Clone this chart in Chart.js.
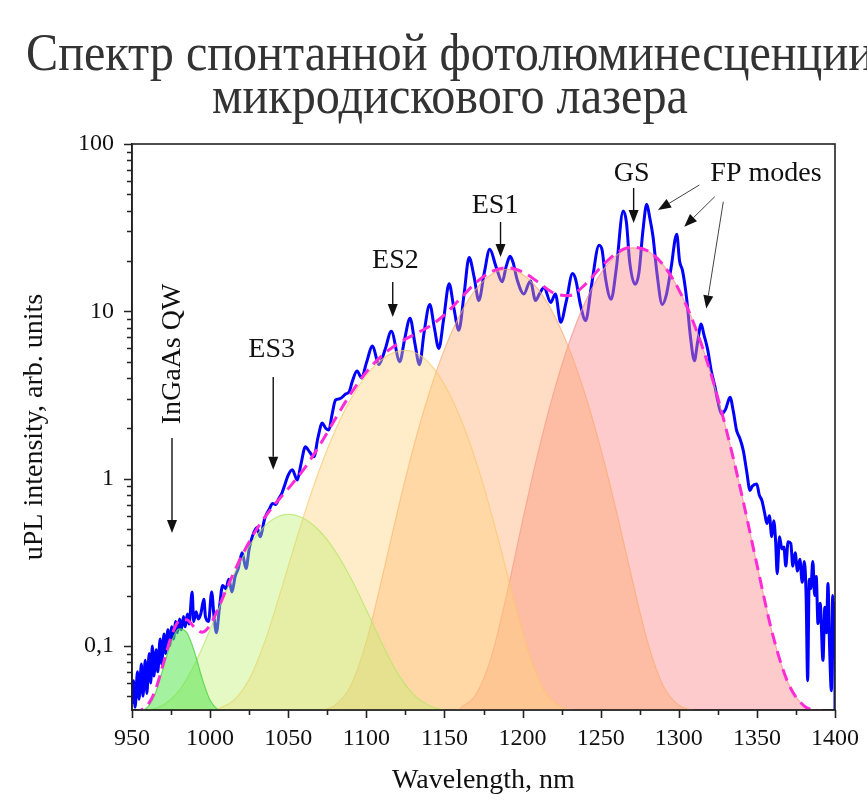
<!DOCTYPE html>
<html>
<head>
<meta charset="utf-8">
<script src="https://cdn.jsdelivr.net/npm/chart.js@4.4.1/dist/chart.umd.min.js"></script>
<style>
  html, body { margin: 0; padding: 0; background: #ffffff; }
  canvas { display: block; }
</style>
</head>
<body>
<canvas id="chart" width="867" height="807"></canvas>
<script>
// ---- axis ticks ----
const wavelengthTicks = [950, 1000, 1050, 1100, 1150, 1200, 1250, 1300, 1350, 1400];
const intensityTicks = [0.1, 1, 10, 100];

// ---- measured micro-PL spectrum ----
const measuredWl = [
  950, 951, 952, 953.5, 954.5, 956, 957, 958.5, 959.5, 961, 962, 963, 964, 965.5, 966.5, 968, 969,
  970.5, 971.5, 973, 974, 975.5, 976.5, 978, 979, 980.5, 981.5, 983, 984, 985.5, 986.5, 988.5, 989.5,
  991, 992.5, 994, 996, 997, 999, 1001, 1002.5, 1004, 1006, 1008, 1010, 1012, 1014, 1016, 1018,
  1020.5, 1023, 1025, 1027, 1030, 1032, 1035, 1038, 1040, 1042, 1044, 1046, 1048, 1050, 1052.6,
  1055.8, 1058, 1061, 1063.5, 1066.5, 1069, 1071.8, 1074, 1076, 1078, 1080.3, 1083, 1086.7, 1089,
  1091, 1094, 1097, 1100, 1104, 1108, 1112, 1116, 1121.4, 1124.5, 1128, 1131, 1134, 1137, 1140.6,
  1143.5, 1146.4, 1149.5, 1153, 1156, 1159.2, 1162.5, 1165.8, 1169, 1172, 1175.5, 1179, 1183, 1187,
  1189.5, 1192, 1194, 1196.5, 1200.8, 1205, 1208.3, 1211, 1213.7, 1218, 1221, 1224.4, 1228, 1232,
  1234, 1237, 1240.4, 1244, 1249, 1251, 1253, 1256.7, 1260, 1264.4, 1266.5, 1268.5, 1272, 1274.5,
  1277, 1279.5, 1281.5, 1283.5, 1286, 1289.4, 1292, 1295, 1298.7, 1300.5, 1302.4, 1305, 1307.5,
  1310, 1312, 1314.3, 1316, 1318.5, 1320.8, 1323, 1325, 1327.4, 1330, 1332.8, 1335, 1337, 1339,
  1341.3, 1343.5, 1345.6, 1347, 1349.9, 1351.5, 1353.2, 1355, 1356.4, 1358, 1359.5, 1360.8, 1362,
  1363, 1364.5, 1366, 1367.3, 1368.5, 1370, 1371.7, 1373, 1374.5, 1376, 1377.5, 1379, 1380.4, 1381.5,
  1382.5, 1383.5, 1384.5, 1385.8, 1387, 1388, 1389.1, 1390.5, 1392.3, 1393.5, 1394.5, 1395.5, 1396.5,
  1397.7, 1398.5, 1399.3, 1399.9, 1400
];
const measuredPl = [
  0.045, 0.062, 0.043, 0.07, 0.048, 0.078, 0.05, 0.082, 0.052, 0.09, 0.06, 0.1, 0.066, 0.095, 0.07, 0.11, 0.078,
  0.118, 0.09, 0.125, 0.1, 0.13, 0.11, 0.14, 0.12, 0.145, 0.125, 0.15, 0.13, 0.155, 0.135, 0.21, 0.14,
  0.16, 0.145, 0.155, 0.19, 0.15, 0.14, 0.21, 0.15, 0.12, 0.17, 0.23, 0.22, 0.25, 0.21, 0.26, 0.29,
  0.36, 0.29, 0.38, 0.45, 0.51, 0.45, 0.58, 0.66, 0.71, 0.70, 0.76, 0.82, 0.93, 1.05, 1.13,
  0.98, 1.2, 1.55, 1.45, 1.35, 1.75, 2.15, 2.0, 1.95, 2.4, 2.95, 3.0, 3.2, 3.3,
  3.8, 4.4, 4.0, 4.9, 6.2, 4.8, 5.9, 7.6, 5.0, 6.8, 9.1, 6.5, 4.8, 7.5, 11.0,
  8.0, 6.0, 9.0, 14.6, 10.5, 7.7, 12.5, 21.0, 16, 11.6, 17, 23.5, 18.5, 15.0,
  18.5, 21.3, 19.5, 15.5, 12.7, 15.2, 11.6, 12.8, 13.9, 11.3, 12.7, 8.6, 11.5, 16.8,
  15.5, 11, 8.8, 14, 24.8, 23, 16, 11.8, 18, 39.8, 34, 20, 14.5, 17,
  30, 43.6, 36, 28, 17, 11.0, 12.5, 18, 28.9, 20, 17.5, 12, 7,
  5.06, 6.5, 8.4, 7.3, 5.9, 4.4, 3.6, 2.9, 2.43, 2.6, 3.06, 2.5, 1.94, 1.75,
  1.47, 1.1, 0.85, 0.9, 0.93, 0.8, 0.74, 0.62, 0.54, 0.6, 0.45, 0.56, 0.42,
  0.27, 0.45, 0.38, 0.39, 0.3, 0.42, 0.41, 0.3, 0.36, 0.28, 0.33, 0.24, 0.32, 0.2,
  0.062, 0.25, 0.22, 0.32, 0.2, 0.26, 0.136, 0.18, 0.082, 0.17, 0.12, 0.236, 0.1,
  0.054, 0.2, 0.12, 0.18, 0.04
];

// ---- fitted peaks (InGaAs QW, ES3, ES2, ES1, GS) ----
const qwWl  = [955, 960, 965, 970, 975, 980, 985, 990, 995, 1000, 1005, 1010];
const qwFit = [0.0405, 0.0431, 0.0522, 0.0737, 0.1047, 0.1265, 0.1204, 0.092, 0.0634, 0.0473, 0.0416, 0.0402];

const es3Wl  = [960, 970, 980, 990, 1000, 1010, 1020, 1030, 1040, 1050, 1060, 1070, 1080, 1090, 1100, 1110, 1120, 1130, 1140, 1150];
const es3Fit = [0.0412, 0.0444, 0.0538, 0.0771, 0.1255, 0.2097, 0.3284, 0.4617, 0.570, 0.612, 0.578, 0.488, 0.370, 0.2555, 0.1644, 0.1036, 0.0688, 0.0515, 0.0441, 0.0413];

const es2Wl  = [1005, 1015, 1025, 1035, 1045, 1055, 1065, 1075, 1085, 1095, 1105, 1115, 1125, 1135, 1145, 1155, 1165, 1175, 1185, 1195, 1205, 1215, 1225, 1235];
const es2Fit = [0.042, 0.0472, 0.0631, 0.106, 0.2088, 0.4267, 0.833, 1.497, 2.435, 3.567, 4.69, 5.528, 5.84, 5.416, 4.32, 2.97, 1.76, 0.908, 0.416, 0.18, 0.085, 0.052, 0.043, 0.0406];

const es1Wl  = [1070, 1080, 1090, 1100, 1110, 1120, 1130, 1140, 1150, 1160, 1170, 1180, 1190, 1200, 1210, 1220, 1230, 1240, 1250, 1260, 1270, 1280, 1290, 1300, 1310];
const es1Fit = [0.041, 0.0442, 0.0578, 0.106, 0.2535, 0.642, 1.517, 3.20, 5.92, 9.58, 13.51, 16.61, 17.8, 16.61, 13.51, 9.58, 5.92, 3.20, 1.517, 0.642, 0.2535, 0.106, 0.0578, 0.0442, 0.041];

const gsWl  = [1160, 1170, 1180, 1190, 1200, 1210, 1220, 1230, 1240, 1250, 1260, 1270, 1280, 1290, 1300, 1310, 1320, 1330, 1340, 1350, 1360, 1370, 1380, 1390, 1400];
const gsFit = [0.0425, 0.051, 0.086, 0.206, 0.559, 1.44, 3.29, 6.55, 11.29, 16.82, 21.6, 23.97, 22.92, 18.93, 13.48, 8.29, 4.41, 2.03, 0.825, 0.307, 0.118, 0.06, 0.044, 0.041, 0.040];

// ---- cumulative fit ----
const sumWl  = [950, 955, 960, 965, 970, 975, 980, 985, 990, 995, 1000, 1005, 1010, 1020, 1030, 1040, 1050, 1060, 1070, 1080, 1090, 1100, 1110, 1120, 1130, 1140, 1150, 1160, 1170, 1180, 1190, 1200, 1210, 1220, 1230, 1240, 1250, 1260, 1270, 1280, 1290, 1300, 1310, 1320, 1330, 1340, 1350, 1360, 1370, 1380, 1390, 1400];
const sumFit = [0.0400, 0.0411, 0.0443, 0.0546, 0.0781, 0.1127, 0.1403, 0.1435, 0.1291, 0.1208, 0.1331, 0.1664, 0.2136, 0.3415, 0.5012, 0.677, 0.871, 1.139, 1.578, 2.267, 3.219, 4.336, 5.437, 6.391, 7.219, 8.094, 9.53, 11.87, 14.77, 17.24, 18.2, 17.21, 14.93, 12.84, 12.43, 14.45, 18.3, 22.21, 24.18, 22.99, 18.95, 13.48, 8.29, 4.41, 2.03, 0.825, 0.307, 0.118, 0.060, 0.044, 0.041, 0.040];

// ---- annotations: label anchor, arrows as [tail, tip] in (nm, intensity) ----
const peakNotes = [
  { text: 'ES3', at: [1039.4, 5.87], arrows: [[[1040.4, 4.05], [1040.4, 1.13]]] },
  { text: 'ES2', at: [1118.6, 20.0], arrows: [[[1116.9, 14.96], [1116.9, 9.25]]] },
  { text: 'ES1', at: [1182.4, 42.6], arrows: [[[1185.9, 34.2], [1185.9, 21.1]]] },
  { text: 'GS',  at: [1269.8, 66.2], arrows: [[[1271.1, 54.6], [1271.1, 33.7]]] },
  { text: 'FP modes', at: [1355.8, 66.2], thin: true, arrows: [
      [[1313.2, 56.9], [1286.7, 40.3]],
      [[1323.0, 48.4], [1303.5, 32.0]],
      [[1328.5, 45.2], [1317.6, 10.4]]
  ] },
  { text: 'InGaAs QW', at: [976.3, 5.56], vertical: true, arrows: [[[975.6, 1.75], [975.6, 0.473]]] }
];

const toXY = (xs, ys) => xs.map((x, i) => ({ x: x, y: ys[i] }));
const SERIF = '"Liberation Serif", "Times New Roman", serif';
const TITLE_LINES = ['Спектр спонтанной фотолюминесценции', 'микродискового лазера'];

function peakSet(label, xs, ys, fillColor, lineColor, order) {
  return {
    label: label,
    data: toXY(xs, ys),
    fill: 'start',
    backgroundColor: fillColor,
    borderColor: lineColor,
    borderWidth: 1.2,
    pointRadius: 0,
    cubicInterpolationMode: 'monotone',
    order: order
  };
}

function drawArrow(ctx, x0, y0, x1, y1, head, halfW) {
  const ang = Math.atan2(y1 - y0, x1 - x0);
  const bx = x1 - head * Math.cos(ang), by = y1 - head * Math.sin(ang);
  ctx.beginPath();
  ctx.moveTo(x0, y0);
  ctx.lineTo(bx, by);
  ctx.stroke();
  ctx.beginPath();
  ctx.moveTo(x1, y1);
  ctx.lineTo(bx + halfW * Math.sin(ang), by - halfW * Math.cos(ang));
  ctx.lineTo(bx - halfW * Math.sin(ang), by + halfW * Math.cos(ang));
  ctx.closePath();
  ctx.fill();
}

const decorations = {
  id: 'decorations',
  afterDraw(chart) {
    const { ctx, chartArea: a } = chart;
    const xs = chart.scales.x, ys = chart.scales.y;
    ctx.save();

    // two-line title, narrowed slightly like a condensed serif face
    ctx.fillStyle = '#333333';
    ctx.textAlign = 'center';
    ctx.textBaseline = 'alphabetic';
    ctx.font = '53px ' + SERIF;
    const sx = 848 / ctx.measureText(TITLE_LINES[0]).width;
    [[TITLE_LINES[0], 70], [TITLE_LINES[1], 113]].forEach(([t, base]) => {
      ctx.save();
      ctx.translate(450, base);
      ctx.scale(sx, 1);
      ctx.fillText(t, 0, 0);
      ctx.restore();
    });

    // frame
    ctx.strokeStyle = '#222222';
    ctx.lineWidth = 1.6;
    ctx.strokeRect(a.left, a.top, a.right - a.left, a.bottom - a.top);

    // x tick marks (major + minor), pointing outward
    ctx.beginPath();
    for (let v = 950; v <= 1400; v += 25) {
      const px = Math.round(xs.getPixelForValue(v)) + 0.5;
      const len = (v % 50 === 0) ? 8 : 5;
      ctx.moveTo(px, a.bottom);
      ctx.lineTo(px, a.bottom + len);
    }
    // y tick marks, log decades with 2..9 minors
    for (let dec = 0.01; dec < 100; dec *= 10) {
      for (let m = 1; m <= 9; m++) {
        const v = dec * m;
        if (v < ys.min || v > ys.max) continue;
        const py = Math.round(ys.getPixelForValue(v)) + 0.5;
        const len = (m === 1) ? 8 : 5;
        ctx.moveTo(a.left, py);
        ctx.lineTo(a.left - len, py);
      }
    }
    const pTop = Math.round(ys.getPixelForValue(100)) + 0.5;
    ctx.moveTo(a.left, pTop);
    ctx.lineTo(a.left - 8, pTop);
    ctx.stroke();

    // peak labels and arrows
    ctx.fillStyle = '#111111';
    ctx.font = '28px ' + SERIF;
    ctx.textBaseline = 'middle';
    peakNotes.forEach(n => {
      const lx = xs.getPixelForValue(n.at[0]);
      const ly = ys.getPixelForValue(n.at[1]);
      if (n.vertical) {
        ctx.save();
        ctx.translate(lx, ly);
        ctx.rotate(-Math.PI / 2);
        ctx.fillText(n.text, 0, 0);
        ctx.restore();
      } else {
        ctx.fillText(n.text, lx, ly);
      }
      ctx.strokeStyle = n.thin ? '#444444' : '#111111';
      ctx.lineWidth = n.thin ? 1 : 1.4;
      n.arrows.forEach(ar => {
        drawArrow(ctx,
          xs.getPixelForValue(ar[0][0]), ys.getPixelForValue(ar[0][1]),
          xs.getPixelForValue(ar[1][0]), ys.getPixelForValue(ar[1][1]),
          13, 5);
      });
    });
    ctx.restore();
  }
};

new Chart(document.getElementById('chart'), {
  type: 'line',
  data: {
    datasets: [
      {
        label: 'Cumulative fit',
        data: toXY(sumWl, sumFit),
        borderColor: '#ff2bd6',
        borderWidth: 3,
        borderDash: [12, 7],
        fill: false,
        pointRadius: 0,
        cubicInterpolationMode: 'monotone',
        order: 0
      },
      peakSet('InGaAs QW', qwWl, qwFit, 'rgba(90,230,80,0.55)', 'rgba(80,210,70,0.8)', 1),
      peakSet('ES3', es3Wl, es3Fit, 'rgba(190,240,110,0.4)', 'rgba(180,230,100,0.7)', 2),
      peakSet('ES2', es2Wl, es2Fit, 'rgba(255,210,120,0.4)', 'rgba(250,200,110,0.7)', 3),
      peakSet('ES1', es1Wl, es1Fit, 'rgba(255,170,110,0.4)', 'rgba(250,170,110,0.7)', 4),
      peakSet('GS', gsWl, gsFit, 'rgba(250,140,140,0.45)', 'rgba(245,150,150,0.75)', 5),
      {
        label: 'uPL spectrum',
        data: toXY(measuredWl, measuredPl),
        borderColor: '#0000ff',
        borderWidth: 3,
        fill: false,
        pointRadius: 0,
        cubicInterpolationMode: 'monotone',
        order: 10
      }
    ]
  },
  options: {
    responsive: false,
    animation: false,
    devicePixelRatio: 1,
    layout: { padding: { top: 144, right: 32, left: 0, bottom: 0 } },
    plugins: {
      legend: { display: false },
      tooltip: { enabled: false },
      title: { display: false }
    },
    scales: {
      x: {
        type: 'linear',
        min: 950,
        max: 1400,
        afterFit: s => { s.height = 97; s.paddingLeft = 0; s.paddingRight = 0; },
        afterBuildTicks: s => { s.ticks = wavelengthTicks.map(v => ({ value: v })); },
        grid: { display: false, drawTicks: false },
        border: { display: true, color: '#222222', width: 1.6 },
        ticks: {
          color: '#111111',
          font: { family: SERIF, size: 24 },
          padding: 14,
          maxRotation: 0,
          autoSkip: false,
          callback: v => String(v)
        },
        title: {
          display: true,
          text: 'Wavelength, nm',
          color: '#111111',
          font: { family: SERIF, size: 28 },
          padding: { top: 0, bottom: 10 }
        }
      },
      y: {
        type: 'logarithmic',
        min: 0.0414,
        max: 100,
        afterFit: s => { s.width = 132; s.paddingTop = 0; s.paddingBottom = 0; },
        afterBuildTicks: s => { s.ticks = intensityTicks.map(v => ({ value: v })); },
        grid: { display: false, drawTicks: false },
        border: { display: true, color: '#222222', width: 1.6 },
        ticks: {
          color: '#111111',
          font: { family: SERIF, size: 24 },
          padding: 18,
          autoSkip: false,
          callback: v => String(v).replace('.', ',')
        },
        title: {
          display: true,
          text: 'uPL intensity, arb. units',
          color: '#111111',
          font: { family: SERIF, size: 28 },
          padding: { top: 18, bottom: 0 }
        }
      }
    }
  },
  plugins: [decorations]
});
</script>
</body>
</html>
